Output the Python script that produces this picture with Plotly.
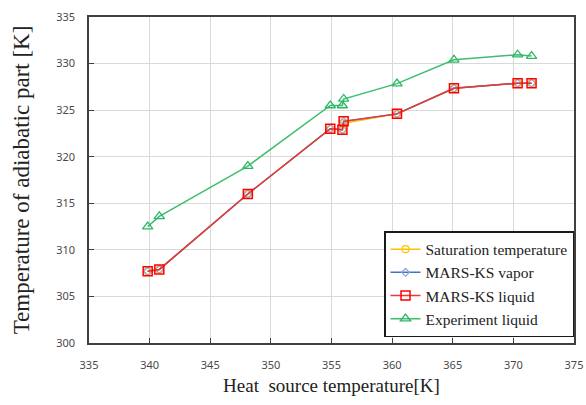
import plotly.graph_objects as go

# Heat source temperature [K]
x_exp = [339.84, 340.8, 348.1, 354.9, 355.9, 356.0, 360.4, 365.1, 370.35, 371.5]
y_exp = [312.5, 313.6, 319.0, 325.5, 325.5, 326.2, 327.85, 330.4, 330.95, 330.8]

x_mars = [339.84, 340.8, 348.1, 354.9, 355.9, 356.0, 360.4, 365.1, 370.35, 371.5]
y_liquid = [307.7, 307.9, 316.0, 323.0, 322.9, 323.8, 324.6, 327.35, 327.9, 327.9]
y_vapor = [307.7, 307.9, 316.0, 323.0, 322.9, 323.8, 324.6, 327.35, 327.9, 327.9]
y_sat = [307.7, 307.9, 316.0, 323.0, 322.9, 323.6, 324.6, 327.35, 327.9, 327.9]

x_ticks = [335, 340, 345, 350, 355, 360, 365, 370, 375]
y_ticks = [300, 305, 310, 315, 320, 325, 330, 335]

SERIF = "Liberation Serif, Times New Roman, serif"

fig = go.Figure()
fig.add_trace(go.Scatter(x=x_mars, y=y_sat, name="Saturation temperature", mode="lines+markers",
                         line=dict(color="#FFC000", width=1.5),
                         marker=dict(symbol="circle-open", size=7, color="#FFC000", line=dict(width=1.2))))
fig.add_trace(go.Scatter(x=x_mars, y=y_vapor, name="MARS-KS vapor", mode="lines+markers",
                         line=dict(color="#4472C4", width=1.5),
                         marker=dict(symbol="diamond-open", size=6, color="#8FA8DC", line=dict(width=1.2))))
fig.add_trace(go.Scatter(x=x_mars, y=y_liquid, name="MARS-KS liquid", mode="lines+markers",
                         line=dict(color="#E83A3A", width=1.5),
                         marker=dict(symbol="square-open", size=9, color="#FF0000", line=dict(width=1.5))))
fig.add_trace(go.Scatter(x=x_exp, y=y_exp, name="Experiment liquid", mode="lines+markers",
                         line=dict(color="#3DBE6E", width=1.5),
                         marker=dict(symbol="triangle-up-open", size=9, color="#2DB866", line=dict(width=1.3))))

fig.update_layout(
    autosize=False,
    width=586, height=405,
    margin=dict(l=89, r=12, t=17, b=62, autoexpand=False),
    paper_bgcolor="white", plot_bgcolor="white",
    showlegend=True,
    font=dict(family=SERIF),
    legend=dict(x=1.0, y=0.018, xanchor="right", yanchor="bottom",
                bordercolor="#1a1a1a", borderwidth=1.5, bgcolor="white",
                font=dict(family=SERIF, size=15.5, color="#222222"),
                tracegroupgap=0, itemwidth=30),
    xaxis=dict(range=[335, 375], tickvals=x_ticks, ticktext=[str(v) for v in x_ticks],
               automargin=False,
               showgrid=True, gridcolor="#D9D9D9", gridwidth=1,
               showline=True, linecolor="#404040", linewidth=1.5, mirror=True,
               ticks="inside", ticklen=5, tickcolor="#404040",
               ticklabelstandoff=11,
               tickfont=dict(family="Noto Sans", size=11, color="#4a4a4a"),
               zeroline=False,
               title=dict(text="Heat  source temperature[K]", standoff=8,
                          font=dict(family=SERIF, size=19, color="#222222"))),
    yaxis=dict(range=[300, 335], tickvals=y_ticks, ticktext=[str(v) for v in y_ticks],
               automargin=False,
               showgrid=True, gridcolor="#D9D9D9", gridwidth=1,
               showline=True, linecolor="#404040", linewidth=1.5, mirror=True,
               ticks="inside", ticklen=5, tickcolor="#404040",
               ticklabelstandoff=10,
               tickfont=dict(family="Noto Sans", size=11, color="#4a4a4a"),
               zeroline=False,
               title=dict(text="Temperature of adiabatic part [K]", standoff=20,
                          font=dict(family=SERIF, size=23, color="#222222"))),
)

fig.write_html("out.html")
